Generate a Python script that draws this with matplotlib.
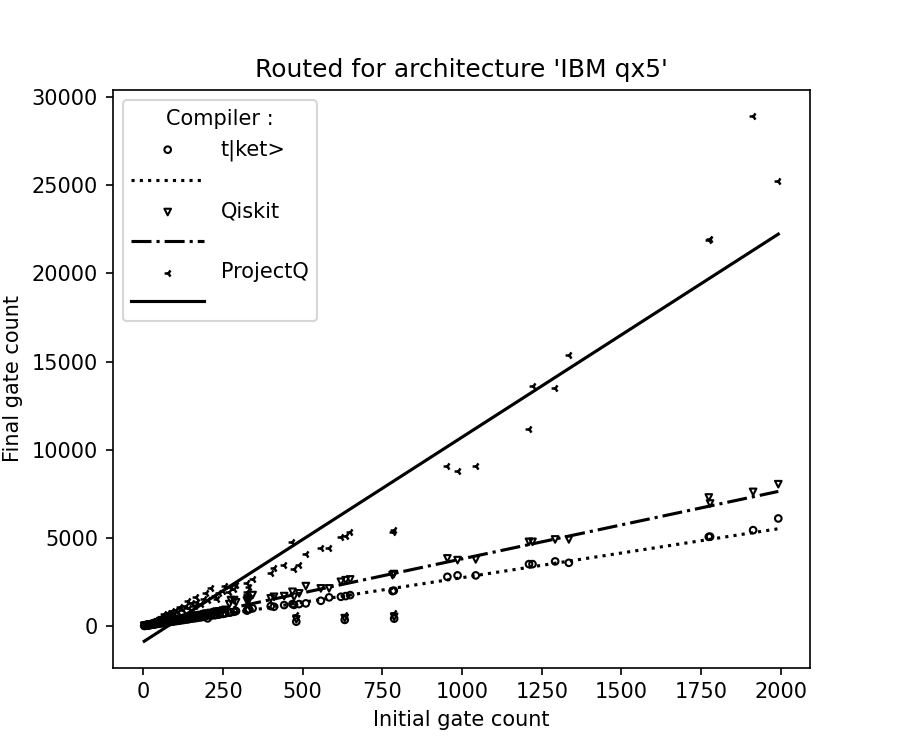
"""Final vs initial gate count after routing for IBM qx5."""

import matplotlib

matplotlib.use("Agg")
import matplotlib.pyplot as plt
import numpy as np

# initial gate count of each benchmark circuit (shared by all compilers)
initial_counts = [
    3, 5, 7, 9, 11, 13, 15, 17, 19, 21, 24, 27, 30, 33, 36, 40, 44, 48, 52, 57,
    62, 67, 72, 78, 84, 90, 96, 103, 110, 118, 126, 134, 143, 152, 161, 170,
    180, 190, 202, 212, 224, 238, 250, 270, 275, 285, 291, 325, 327, 332, 343,
    400, 410, 442, 468, 473, 480, 489, 510, 557, 583, 620, 632, 635, 649, 782,
    786, 787, 954, 986, 1043, 1210, 1221, 1292, 1335, 1774, 1778, 1913, 1992,
    46, 64, 88, 115, 140, 165, 196, 230, 258,
]

tket_counts = [
    10, 14, 20, 26, 30, 38, 41, 47, 55, 58, 66, 77, 82, 95, 100, 112, 124, 131,
    146, 158, 170, 188, 196, 215, 232, 246, 265, 281, 300, 326, 342, 368, 390,
    418, 440, 466, 490, 520, 436, 580, 612, 652, 690, 760, 780, 810, 850, 880,
    906, 950, 1003, 1133, 1095, 1190, 1246, 1200, 250, 1246, 1286, 1433, 1626,
    1660, 350, 1700, 1756, 1983, 2010, 420, 2793, 2873, 2873, 3513, 3513, 3666,
    3586, 5059, 5070, 5439, 6102,
    150, 190, 260, 330, 400, 470, 560, 640, 720,
]

qiskit_counts = [
    12, 18, 25, 33, 38, 46, 52, 60, 68, 72, 84, 96, 104, 118, 126, 142, 156,
    166, 184, 198, 216, 236, 250, 272, 294, 312, 336, 358, 382, 414, 436, 468,
    498, 530, 560, 594, 626, 662, 700, 742, 784, 830, 880, 1246, 1473, 1473,
    1350, 1450, 1569, 1500, 1756, 1569, 1660, 1700, 1943, 1660, 380, 1853, 2266,
    2136, 2136, 2510, 450, 2600, 2645, 2890, 2950, 520, 3836, 3739, 3779, 4776,
    4776, 4912, 4912, 7292, 6952, 7609, 8045,
    170, 230, 320, 410, 500, 590, 700, 820, 920,
]

projectq_counts = [
    25, 35, 62, 60, 95, 98, 130, 125, 170, 160, 210, 205, 260, 230, 330, 300,
    420, 360, 480, 527, 430, 640, 560, 760, 620, 880, 700, 906, 820, 1003, 900,
    1133, 1020, 1280, 1150, 1377, 1250, 1560, 1450, 2136, 1700, 1853, 2000,
    1943, 2227, 2100, 2323, 1943, 2453, 2227, 2645, 2985, 3269, 3456, 4742,
    3212, 600, 3456, 4079, 4436, 4402, 5059, 650, 5116, 5309, 5343, 5450, 760,
    9100, 8800, 9100, 11200, 13600, 13500, 15400, 21870, 21950, 28912, 25212,
    380, 700, 760, 1100, 1400, 1650, 1900, 1550, 2300,
]

compilers = ["t|ket>", "Qiskit", "ProjectQ"]
markers = ["o", "v", "3"]
line_styles = [":", "-.", "-"]


def main() -> None:
    x = np.array(initial_counts, dtype=float)
    series = [tket_counts, qiskit_counts, projectq_counts]

    fig, ax = plt.subplots(figsize=(6, 5), dpi=150)
    handles, labels = [], []
    for name, marker, style, values in zip(compilers, markers, line_styles, series):
        y = np.array(values, dtype=float)
        if marker == "3":
            pts = ax.scatter(x, y, marker=marker, s=14, color="black", linewidths=1.2)
        else:
            pts = ax.scatter(x, y, marker=marker, s=10, facecolors="none",
                             edgecolors="black", linewidths=1.0)
        slope, intercept = np.polyfit(x, y, 1)
        xs = np.array([x.min(), x.max()])
        (line,) = ax.plot(xs, slope * xs + intercept, linestyle=style, color="black")
        handles += [pts, line]
        labels += [name, ""]

    ax.legend(handles, labels, title="Compiler :", loc="upper left",
              scatterpoints=1, handlelength=3.5)
    ax.set_title("Routed for architecture 'IBM qx5'")
    ax.set_xlabel("Initial gate count")
    ax.set_ylabel("Final gate count")
    fig.savefig("out.png", dpi=150)
    plt.close(fig)


if __name__ == "__main__":
    main()
